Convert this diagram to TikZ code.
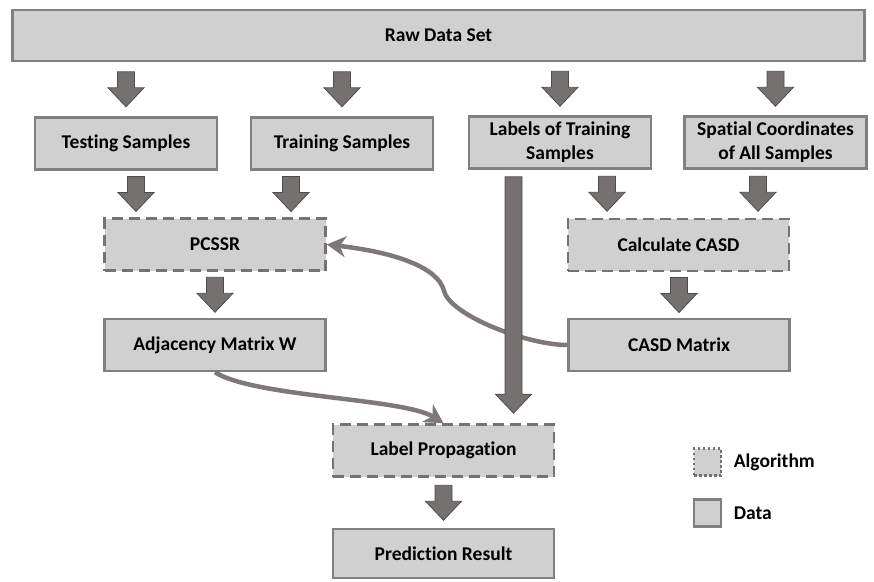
\documentclass[tikz,border=0pt]{standalone}
\usepackage{fontspec}
\setmainfont{Carlito}[Ligatures=NoCommon]
\usetikzlibrary{arrows.meta, positioning, calc}
\definecolor{boxFill}{HTML}{D0D0D0}
\definecolor{boxLine}{HTML}{808080}
\definecolor{dashLine}{HTML}{767272}
\definecolor{arrowFill}{HTML}{767171}
\definecolor{arrowLine}{HTML}{4E4B4B}
\definecolor{linkGray}{HTML}{7F7878}
\newcommand{\boxfont}{\fontsize{19.5}{24}\selectfont\bfseries}
\tikzset{
  databox/.style={draw=boxLine, line width=2.6pt, fill=boxFill, minimum width=#1,
                  minimum height=52pt, font=\boxfont, align=center, inner sep=2pt},
  databox/.default=182pt,
  algbox/.style={databox=#1, draw=dashLine, dash pattern=on 11pt off 6pt},
  algbox/.default=221pt,
  legbox/.style={draw=boxLine, line width=2.6pt, fill=boxFill, minimum size=27pt, inner sep=0pt},
  blockarrow/.style={fill=arrowFill, draw=arrowLine, line width=0.8pt, line join=miter},
  link/.style={draw=linkGray, line width=4.5pt, -{Stealth[length=19pt, width=21pt, inset=6pt]}},
}
% block arrow from a top point down to its tip
\newcommand{\flowshape}[2]{%
  \draw[blockarrow] ($(#1)+(-8.5,0)$) -- ($(#1)+(8.5,0)$) -- ($(#2)+(8.5,-19)$)
    -- ($(#2)+(18,-19)$) -- (#2) -- ($(#2)+(-18,-19)$) -- ($(#2)+(-8.5,-19)$) -- cycle;}
% block arrow centred in the gap between two nodes, x from the target, shifted by #1
\newcommand{\flowgap}[3][0]{%
  \coordinate (fmid) at ($(#3 |- #2)!0.5!(#3)+(#1,0)$);
  \coordinate (ftop) at ($(fmid)+(0,-17.5)$);
  \coordinate (ftip) at ($(fmid)+(0,17.5)$);
  \flowshape{ftop}{ftip}}

\begin{document}
\begin{tikzpicture}[x=1pt, y=-1pt]
\useasboundingbox (0,0) rectangle (874,581);

% data and algorithm boxes
\node[databox=852pt, minimum height=51pt] (raw) at (438.5,35.5) {Raw Data Set};
\node[databox] (tst) at (126,143.5) {Testing Samples};
\node[databox] (trn) at (342,143.5) {Training Samples};
\node[databox] (lab) at (560,142.5) {Labels of Training\\Samples};
\node[databox] (spc) at (775.5,142.5) {Spatial Coordinates\\of All Samples};
\node[algbox] (pcssr) at (215,244.5) {PCSSR};
\node[algbox] (calc) at (678.5,245) {Calculate CASD};
\node[databox=221pt] (adj) at (215,345) {Adjacency Matrix W};
\node[databox=221pt] (casd) at (679,345) {CASD Matrix};
\node[algbox] (lp) at (443.5,450.5) {Label Propagation};
\node[databox=221pt, minimum height=49pt] (pr) at (443.5,553.5) {Prediction Result};

% curved links
\draw[link] (casd.west) .. controls +(-40,0) and +(5,25) .. ++(-123.5,-55)
  .. controls +(-6,-22) and +(70,8) .. (pcssr.east);
\draw[link] (adj.south) .. controls +(40,25) and +(-40,-25) .. (lp.north);

% block arrows
\flowgap{raw.south}{tst.north}
\flowgap{raw.south}{trn.north}
\flowgap{raw.south}{lab.north}
\flowgap{raw.south}{spc.north}
\flowgap[-79]{tst.south}{pcssr.north}
\flowgap[76]{trn.south}{pcssr.north}
\flowgap[-71.5]{lab.south}{calc.north}
\flowgap[79.5]{spc.south}{calc.north}
\flowgap{pcssr.south}{adj.north}
\flowgap{calc.south}{casd.north}
\flowgap{lp.south}{pr.north}
\coordinate (barTop) at ($(lab.south)+(-46.5,7)$);
\coordinate (barTip) at ($(barTop |- lp.north)+(0,-10)$);
\flowshape{barTop}{barTip}

% legend
\node[legbox, draw=dashLine, dash pattern=on 2.5pt off 2.5pt] (legAlg) at (707.5,462) {};
\node[right=8pt of legAlg, font=\boxfont] (legAlgTxt) {Algorithm};
\node[legbox] (legDat) at (707.5,513) {};
\node[right=8pt of legDat, font=\boxfont] (legDatTxt) {Data};
\end{tikzpicture}
\end{document}
